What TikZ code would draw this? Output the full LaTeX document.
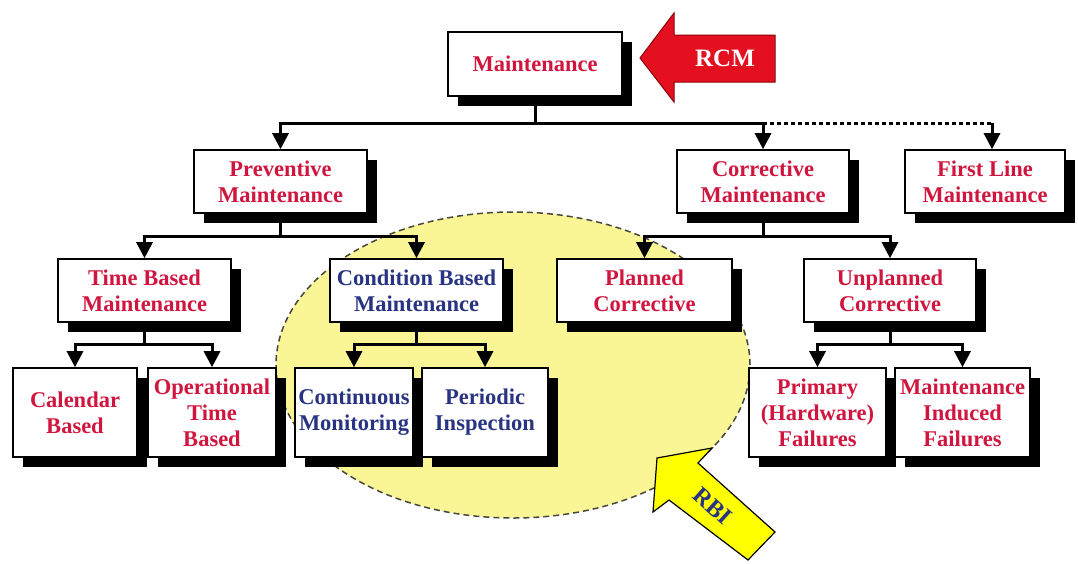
\documentclass[tikz,border=0pt]{standalone}
\usepackage{fontspec}
\setmainfont{Liberation Serif}
\usetikzlibrary{shadows,arrows.meta}

\definecolor{boxred}{RGB}{208,22,62}
\definecolor{boxblue}{RGB}{40,52,130}
\definecolor{zonefill}{RGB}{250,246,150}
\definecolor{zoneedge}{RGB}{70,70,60}
\definecolor{rcmred}{RGB}{228,16,32}
\definecolor{rcmdark}{RGB}{140,0,10}
\definecolor{rbiyellow}{RGB}{255,255,0}

\begin{document}
\begin{tikzpicture}[x=1pt,y=-1pt,
  box/.style={draw=black, line width=1.6pt, fill=white, align=center,
    inner sep=0pt, text=boxred,
    font=\bfseries\fontsize{22.5}{26}\selectfont,
    general shadow={fill=black, shadow xshift=10pt, shadow yshift=-10pt}},
  wide/.style={box, minimum width=173pt, minimum height=63pt},
  tall/.style={box, minimum height=89pt},
  link/.style={line width=3pt, line cap=rect},
  tip/.style={line width=3pt, -{Triangle[width=16pt,length=16pt]}},
]
\useasboundingbox (0,0) rectangle (1078,563);
\fill[white] (0,0) rectangle (1078,563);

% RBI zone
\draw[fill=zonefill, draw=zoneedge, line width=1.5pt, dash pattern=on 6pt off 4pt]
  (513,365) ellipse [x radius=237pt, y radius=153pt];

% top level
\node[box, minimum width=174pt, minimum height=64pt] (maint) at (535,64) {Maintenance};

% second level
\node[wide] (prev)  at (280.5,181.5) {Preventive\\Maintenance};
\node[wide, minimum width=172pt] (corr) at (763,181.5) {Corrective\\Maintenance};
\node[wide, minimum width=160pt] (first) at (985,181.5) {First Line\\Maintenance};

% third level
\node[wide] (time) at (144.5,290.5) {Time Based\\Maintenance};
\node[wide, text=boxblue] (cond) at (416.5,290.5) {Condition Based\\Maintenance};
\node[wide, minimum width=175pt] (plan) at (644.5,290.5) {Planned\\Corrective};
\node[wide, minimum width=172pt] (unpl) at (890,290.5) {Unplanned\\Corrective};

% fourth level
\node[tall, minimum width=124pt] (cal)  at (75,412.5)  {Calendar\\Based};
\node[tall, minimum width=128pt] (oper) at (212,412.5) {Operational\\Time\\Based};
\node[tall, minimum width=118pt, text=boxblue] (cont) at (354,412.5) {Continuous\\Monitoring};
\node[tall, minimum width=126pt, text=boxblue] (peri) at (485,412.5) {Periodic\\Inspection};
\node[tall, minimum width=137pt] (prim) at (817.5,412.5) {Primary\\(Hardware)\\Failures};
\node[tall, minimum width=135pt] (indu) at (962.5,412.5) {Maintenance\\Induced\\Failures};

% junction points
\coordinate (j0) at (maint.south |- 0,123);
\coordinate (jp) at (prev.north |- j0);
\coordinate (jc) at (corr.north |- j0);
\coordinate (jf) at (992,123);
\coordinate (pj) at (prev.south |- 0,236);
\coordinate (cj) at (corr.south |- 0,236);
\coordinate (tj) at (time.south |- 0,344);
\coordinate (kj) at (cond.south |- 0,344);
\coordinate (uj) at (unpl.south |- 0,344);

% Maintenance -> second level
\draw[link] (maint.south) -- (j0);
\draw[link] (jp) -- (jc);
\draw[line width=3pt, dash pattern=on 4pt off 3pt] (jc) -- (jf);
\draw[tip] (jp) -- (prev.north);
\draw[tip] (jc) -- (corr.north);
\draw[tip] (jf) -- (jf |- first.north);

% Preventive -> third level
\draw[link] (prev.south) -- (pj);
\draw[link] (time.north |- pj) -- (cond.north |- pj);
\draw[tip] (time.north |- pj) -- (time.north);
\draw[tip] (cond.north |- pj) -- (cond.north);

% Corrective -> third level
\draw[link] (corr.south) -- (cj);
\draw[link] (plan.north |- cj) -- (unpl.north |- cj);
\draw[tip] (plan.north |- cj) -- (plan.north);
\draw[tip] (unpl.north |- cj) -- (unpl.north);

% Time Based -> fourth level
\draw[link] (time.south) -- (tj);
\draw[link] (cal.north |- tj) -- (oper.north |- tj);
\draw[tip] (cal.north |- tj) -- (cal.north);
\draw[tip] (oper.north |- tj) -- (oper.north);

% Condition Based -> fourth level
\draw[link] (cond.south) -- (kj);
\draw[link] (cont.north |- kj) -- (peri.north |- kj);
\draw[tip] (cont.north |- kj) -- (cont.north);
\draw[tip] (peri.north |- kj) -- (peri.north);

% Unplanned -> fourth level
\draw[link] (unpl.south) -- (uj);
\draw[link] (prim.north |- uj) -- (indu.north |- uj);
\draw[tip] (prim.north |- uj) -- (prim.north);
\draw[tip] (indu.north |- uj) -- (indu.north);

% RCM block arrow
\draw[fill=rcmred, draw=rcmdark, line width=1pt, line join=miter]
  (640,58) -- (674,13) -- (674,35) -- (775,35) -- (775,82) -- (674,82) -- (674,102) -- cycle;
\node[text=white, font=\bfseries\fontsize{25}{25}\selectfont] (rcm) at (725,58) {RCM};

% RBI block arrow
\draw[fill=rbiyellow, draw=black, line width=1.2pt, line join=miter]
  (657,458) -- (712,448) -- (698,463) -- (775,532) -- (748,560) -- (669,500) -- (653,512) -- cycle;
\node[rotate=-42, inner sep=0pt, text=boxblue, font=\bfseries\fontsize{24}{24}\selectfont] (rbi) at (713,506) {RBI};

\end{tikzpicture}
\end{document}
